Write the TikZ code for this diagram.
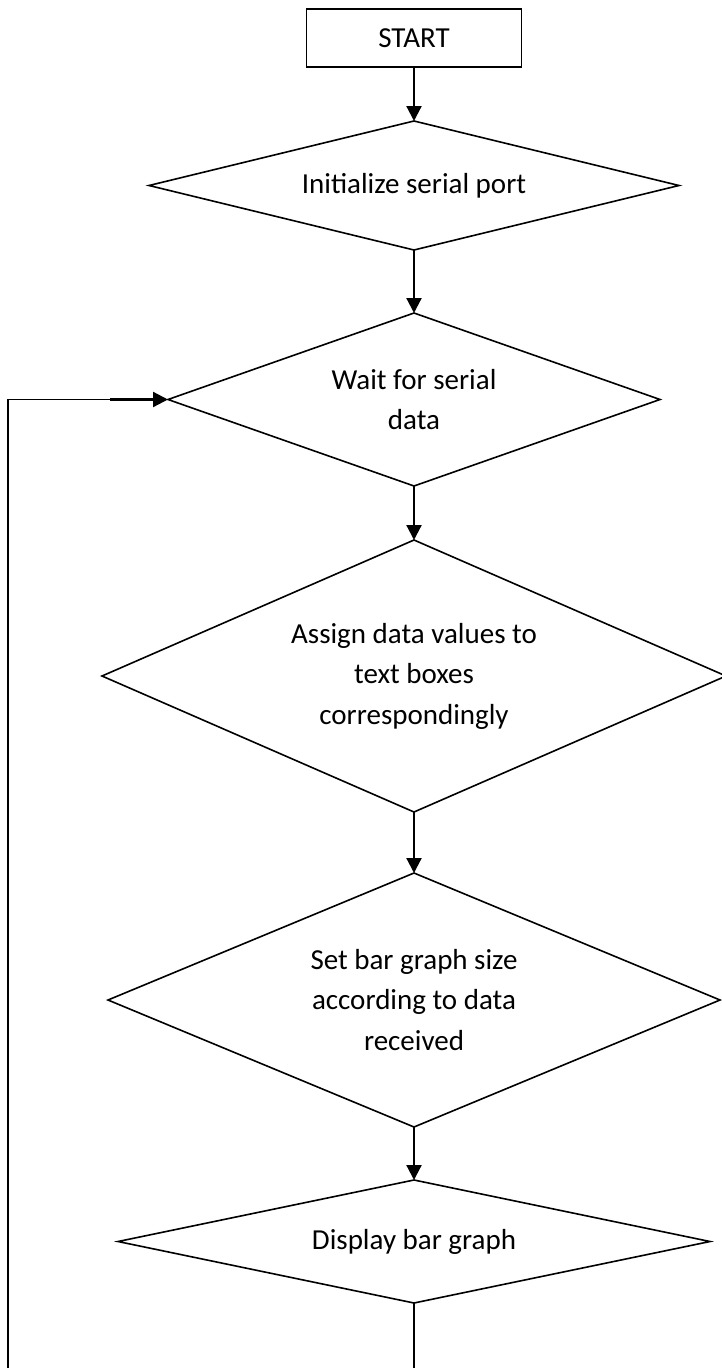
\documentclass[tikz,border=0pt]{standalone}
\usepackage{fontspec}
\setmainfont{Carlito}
\usetikzlibrary{arrows.meta, positioning, shapes.geometric}

\begin{document}
\begin{tikzpicture}[
    x=1pt, y=-1pt,
    font=\fontsize{29}{40.5}\selectfont,
    startbox/.style={draw, line width=1.6pt, minimum width=215pt, minimum height=58pt, inner sep=0pt, outer sep=0pt},
    decision/.style={draw, diamond, line width=1.6pt, inner sep=0pt, outer sep=0pt, align=center},
    flow/.style={-{Triangle[length=15pt, width=15pt]}, line width=2.2pt},
    backline/.style={line width=1.2pt},
]
    \useasboundingbox (0,0) rectangle (722,1368);

    % Nodes
    \node[startbox] (start) at (414,38) {START};
    \node[decision, minimum width=530pt, minimum height=129pt, aspect=4.1, below=54pt of start] (init) {Initialize serial port};
    \node[decision, minimum width=492pt, minimum height=173pt, aspect=2.84, below=63pt of init] (wait) {Wait for serial\\data};
    \node[decision, minimum width=624pt, minimum height=272pt, aspect=2.29, below=54pt of wait] (assign) {Assign data values to\\text boxes\\correspondingly};
    \node[decision, minimum width=612pt, minimum height=254pt, aspect=2.4, below=61pt of assign] (setbar) {Set bar graph size\\according to data\\received};
    \node[decision, minimum width=592pt, minimum height=123pt, aspect=4.8, below=53pt of setbar] (display) {Display bar graph};

    % Arrows
    \draw[flow] (start) -- (init);
    \draw[flow] (init) -- (wait);
    \draw[flow] (wait) -- (assign);
    \draw[flow] (assign) -- (setbar);
    \draw[flow] (setbar) -- (display);

    % Loop back
    \coordinate (loopbot) at (8,1420);
    \coordinate (loopin) at ([xshift=-58pt]wait.west);
    \draw[backline] (display.south) |- (loopbot) |- (loopin);
    \draw[flow] (loopin) -- (wait.west);
\end{tikzpicture}
\end{document}
